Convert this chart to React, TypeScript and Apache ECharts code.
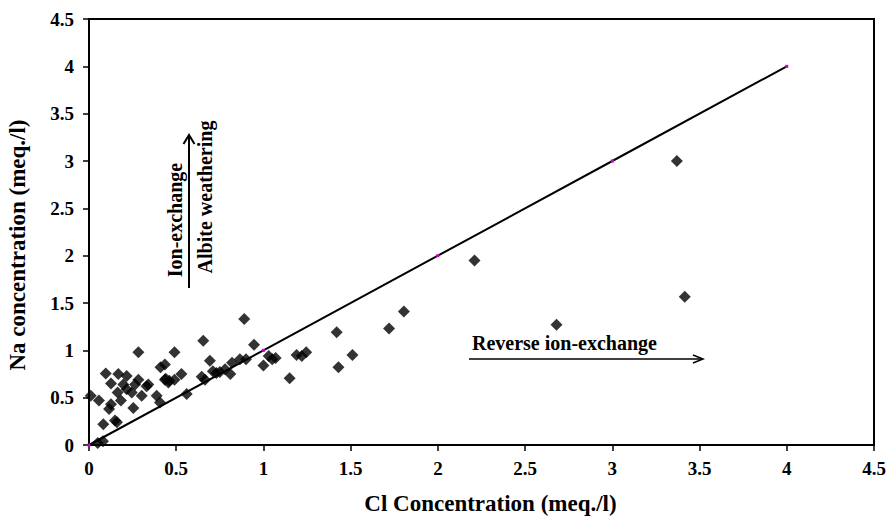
import React, { useEffect, useRef } from "react";
import * as echarts from "echarts";

const FONT = "Liberation Serif";

const xTicks = [0, 0.5, 1, 1.5, 2, 2.5, 3, 3.5, 4, 4.5];
const yTicks = [0, 0.5, 1, 1.5, 2, 2.5, 3, 3.5, 4, 4.5];

const clValues = [
  0.01, 0.057, 0.05, 0.08, 0.082, 0.096, 0.115, 0.126, 0.149, 0.16,
  0.126, 0.168, 0.164, 0.183, 0.216, 0.216, 0.197, 0.254, 0.245, 0.264,
  0.283, 0.302, 0.33, 0.388, 0.407, 0.435, 0.435, 0.455, 0.49, 0.53,
  0.283, 0.49, 0.655, 0.89, 0.946, 0.41, 0.44, 0.46, 0.34, 0.56,
  0.646, 0.665, 0.693, 0.71, 0.73, 0.75, 0.78, 0.81, 0.82, 0.865,
  0.9, 1.0, 1.03, 1.05, 1.07, 1.15, 1.19, 1.22, 1.245, 1.42,
  1.43, 1.51, 1.72, 1.805, 2.21, 2.68, 3.37, 3.415,
];
const naValues = [
  0.52, 0.47, 0.02, 0.04, 0.22, 0.755, 0.38, 0.43, 0.26, 0.24,
  0.65, 0.75, 0.555, 0.47, 0.73, 0.59, 0.64, 0.39, 0.555, 0.64,
  0.69, 0.52, 0.62, 0.52, 0.45, 0.69, 0.85, 0.66, 0.69, 0.75,
  0.98, 0.98, 1.1, 1.33, 1.06, 0.82, 0.7, 0.68, 0.64, 0.54,
  0.72, 0.69, 0.89, 0.78, 0.76, 0.77, 0.8, 0.75, 0.87, 0.905,
  0.905, 0.84, 0.94, 0.905, 0.92, 0.705, 0.95, 0.94, 0.98, 1.19,
  0.82, 0.95, 1.23, 1.41, 1.95, 1.27, 3.0, 1.565,
];

const lineX = [0, 1, 2, 3, 4];
const lineY = [0, 1, 2, 3, 4];

export default function App() {
  const ref = useRef<HTMLDivElement>(null);
  useEffect(() => {
    if (!ref.current) return;
    const chart = echarts.init(ref.current, null, { renderer: "svg" });
    const scatterData = clValues.map((x, i) => [x, naValues[i]]);
    const lineData = lineX.map((x, i) => [x, lineY[i]]);
    const axisCommon = {
      type: "value" as const,
      min: 0,
      max: 4.5,
      interval: 0.5,
      splitLine: { show: false },
      axisLine: { show: true, lineStyle: { color: "#000", width: 2 } },
      axisTick: { show: true, length: 6, lineStyle: { color: "#000", width: 1.5 } },
      nameLocation: "middle" as const,
    };
    const labelStyle = {
      fontFamily: FONT,
      fontWeight: "bold",
      fontSize: 19,
      color: "#000",
    };
    const annot = (text: string) => ({
      text,
      fontFamily: FONT,
      fontWeight: "bold",
      fontSize: 20,
      fill: "#000",
      textVerticalAlign: "middle",
    });
    chart.setOption({
      animation: false,
      backgroundColor: "#fff",
      grid: {
        left: 89,
        right: 16,
        top: 19,
        bottom: 73,
        show: true,
        borderColor: "#000",
        borderWidth: 2,
        containLabel: false,
        outerBoundsMode: "none",
      },
      xAxis: {
        ...axisCommon,
        name: "Cl Concentration (meq./l)",
        nameGap: 47,
        nameTextStyle: {
          fontFamily: FONT,
          fontWeight: "bold",
          fontSize: 23,
          color: "#000",
          padding: [0, 0, 0, 18],
        },
        axisLabel: {
          ...labelStyle,
          margin: 14,
          formatter: (v: number) => String(xTicks.find((t) => Math.abs(t - v) < 1e-9) ?? v),
        },
      },
      yAxis: {
        ...axisCommon,
        name: "Na concentration (meq./l)",
        nameGap: 60,
        nameTextStyle: {
          fontFamily: FONT,
          fontWeight: "bold",
          fontSize: 23,
          color: "#000",
          padding: [0, 26, 0, 0],
        },
        axisLabel: {
          ...labelStyle,
          margin: 15,
          formatter: (v: number) => String(yTicks.find((t) => Math.abs(t - v) < 1e-9) ?? v),
        },
      },
      series: [
        {
          type: "line",
          data: lineData,
          symbol: "rect",
          symbolSize: 3,
          showSymbol: true,
          itemStyle: { color: "#cc00cc" },
          lineStyle: { color: "#000", width: 2 },
          z: 2,
        },
        {
          type: "scatter",
          data: scatterData,
          symbol: "diamond",
          symbolSize: 12,
          itemStyle: { color: "#000" },
          z: 3,
        },
      ],
      graphic: [
        {
          type: "line",
          shape: { x1: 469, y1: 359, x2: 702, y2: 359 },
          style: { stroke: "#000", lineWidth: 1.5 },
        },
        {
          type: "polyline",
          shape: { points: [[693, 355], [703, 359], [693, 363]] },
          style: { stroke: "#000", lineWidth: 1.5, fill: null },
        },
        {
          type: "text",
          x: 472,
          y: 343,
          style: { ...annot("Reverse ion-exchange"), textAlign: "left" },
        },
        {
          type: "line",
          shape: { x1: 189, y1: 288, x2: 189, y2: 136 },
          style: { stroke: "#000", lineWidth: 2 },
        },
        {
          type: "polyline",
          shape: { points: [[183.5, 144], [189, 135], [194.5, 144]] },
          style: { stroke: "#000", lineWidth: 2, fill: null },
        },
        {
          type: "text",
          x: 175,
          y: 220,
          rotation: Math.PI / 2,
          style: { ...annot("Ion-exchange"), textAlign: "center" },
        },
        {
          type: "text",
          x: 205,
          y: 197,
          rotation: Math.PI / 2,
          style: { ...annot("Albite weathering"), textAlign: "center" },
        },
      ],
    });
    return () => chart.dispose();
  }, []);
  return (
    <div
      ref={ref}
      style={{ position: "fixed", left: 0, top: 0, width: 890, height: 518 }}
    />
  );
}
